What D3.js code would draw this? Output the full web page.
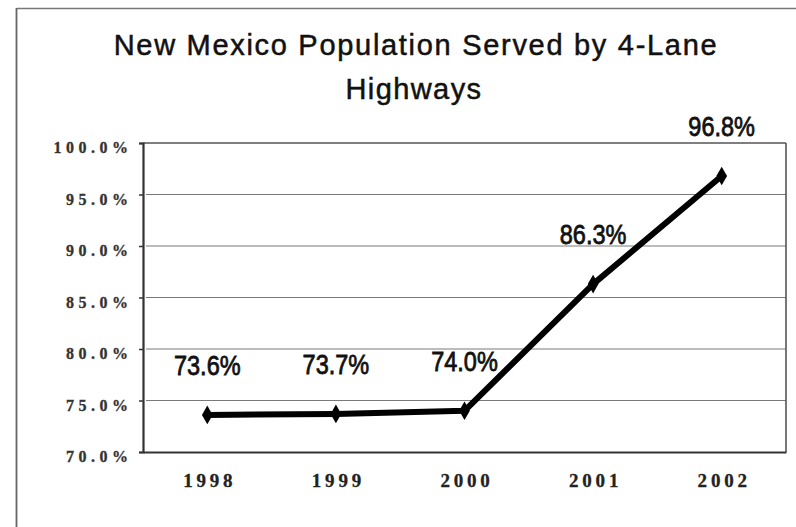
<!DOCTYPE html>
<html>
<head>
<meta charset="utf-8">
<script src="https://cdn.jsdelivr.net/npm/d3@7/dist/d3.min.js"></script>
<style>
  html, body { margin: 0; padding: 0; background: #fff; }
  svg { display: block; }
</style>
</head>
<body>
<svg id="chart" width="796" height="527"></svg>
<script>
const titleLines = ["New Mexico Population Served by 4-Lane", "Highways"];
const years = ["1998", "1999", "2000", "2001", "2002"];
const values = [73.6, 73.7, 74.0, 86.3, 96.8];
const labels = ["73.6%", "73.7%", "74.0%", "86.3%", "96.8%"];
const yTicks = [70, 75, 80, 85, 90, 95, 100];

const svg = d3.select("#chart");
const W = 796, H = 527;
const m = { left: 143, right: 786, top: 143, bottom: 452 };

svg.append("rect").attr("width", W).attr("height", H).attr("fill", "#fff");

// outer frame (partial, as in the scan)
svg.append("line").attr("x1", 17).attr("x2", W).attr("y1", 8.5).attr("y2", 8.5)
  .attr("stroke", "#777").attr("stroke-width", 1.6);
svg.append("line").attr("x1", 16.5).attr("x2", 16.5).attr("y1", 8).attr("y2", H)
  .attr("stroke", "#666").attr("stroke-width", 1.8);

const x = d3.scalePoint().domain(years).range([m.left, m.right]).padding(0.5);
const y = d3.scaleLinear().domain([70, 100]).range([m.bottom, m.top]);

// gridlines
svg.append("g").selectAll("line").data(yTicks.filter(d => d > 70 && d < 100)).join("line")
  .attr("x1", m.left + 3).attr("x2", m.right)
  .attr("y1", d => y(d)).attr("y2", d => y(d))
  .attr("stroke", "#7a7a7a").attr("stroke-width", 1.2);

// top & right borders
svg.append("line").attr("x1", m.left).attr("x2", m.right).attr("y1", m.top).attr("y2", m.top)
  .attr("stroke", "#555").attr("stroke-width", 1.6);
svg.append("line").attr("x1", m.right).attr("x2", m.right).attr("y1", m.top).attr("y2", m.bottom)
  .attr("stroke", "#555").attr("stroke-width", 1.6);

// y axis
const yAxis = d3.axisLeft(y).tickValues(yTicks).tickSize(4).tickPadding(6.5)
  .tickFormat(d => d3.format(".1f")(d) + "%");
const gy = svg.append("g").attr("transform", `translate(${m.left},0)`).call(yAxis);
gy.select(".domain").attr("stroke", "#333").attr("stroke-width", 2.2);
gy.selectAll(".tick line").attr("stroke", "#333").attr("stroke-width", 1.5);
gy.selectAll(".tick text")
  .attr("font-family", "'Liberation Serif', 'Times New Roman', serif")
  .attr("font-weight", "bold").attr("font-size", 16)
  .attr("letter-spacing", "4.5px").attr("fill", "#333")
  .attr("stroke", "#333").attr("stroke-width", 0.3)
  .attr("dy", "0.6em");

// x axis
const xAxis = d3.axisBottom(x).tickSize(0).tickPadding(22);
const gx = svg.append("g").attr("transform", `translate(0,${m.bottom})`).call(xAxis);
gx.select(".domain").attr("stroke", "#333").attr("stroke-width", 2.2);
gx.selectAll(".tick text")
  .attr("font-family", "'Liberation Serif', 'Times New Roman', serif")
  .attr("font-weight", "bold").attr("font-size", 19)
  .attr("letter-spacing", "3.8px").attr("fill", "#222")
  .attr("stroke", "#222").attr("stroke-width", 0.3)
  .attr("dx", "2px");

// line
const line = d3.line().x((d, i) => x(years[i])).y(d => y(d));
svg.append("path").datum(values).attr("d", line)
  .attr("fill", "none").attr("stroke", "#000").attr("stroke-width", 6)
  .attr("stroke-linejoin", "round");

// markers
const diamond = d3.symbol().type(d3.symbolDiamond).size(100);
svg.append("g").selectAll("path").data(values).join("path")
  .attr("d", diamond)
  .attr("transform", (d, i) => `translate(${x(years[i])},${y(d)})`)
  .attr("fill", "#000");

// data labels
svg.append("g").selectAll("text").data(values).join("text")
  .attr("transform", (d, i) => `translate(${x(years[i])},${y(d) - 40}) scale(0.84,1)`)
  .attr("text-anchor", "middle")
  .attr("font-family", "'Liberation Sans', Arial, sans-serif")
  .attr("font-size", 28).attr("fill", "#111")
  .attr("stroke", "#111").attr("stroke-width", 0.8)
  .text((d, i) => labels[i]);

// title
svg.append("g").selectAll("text").data(titleLines).join("text")
  .attr("x", (d, i) => i === 0 ? 416 : 414).attr("y", (d, i) => 55 + i * 44)
  .attr("text-anchor", "middle")
  .attr("font-family", "'Liberation Sans', Arial, sans-serif")
  .attr("font-size", 29).attr("letter-spacing", (d, i) => i === 0 ? "1.7px" : "1.4px")
  .attr("fill", "#111")
  .attr("stroke", "#111").attr("stroke-width", 0.5)
  .text(d => d);
</script>
</body>
</html>
